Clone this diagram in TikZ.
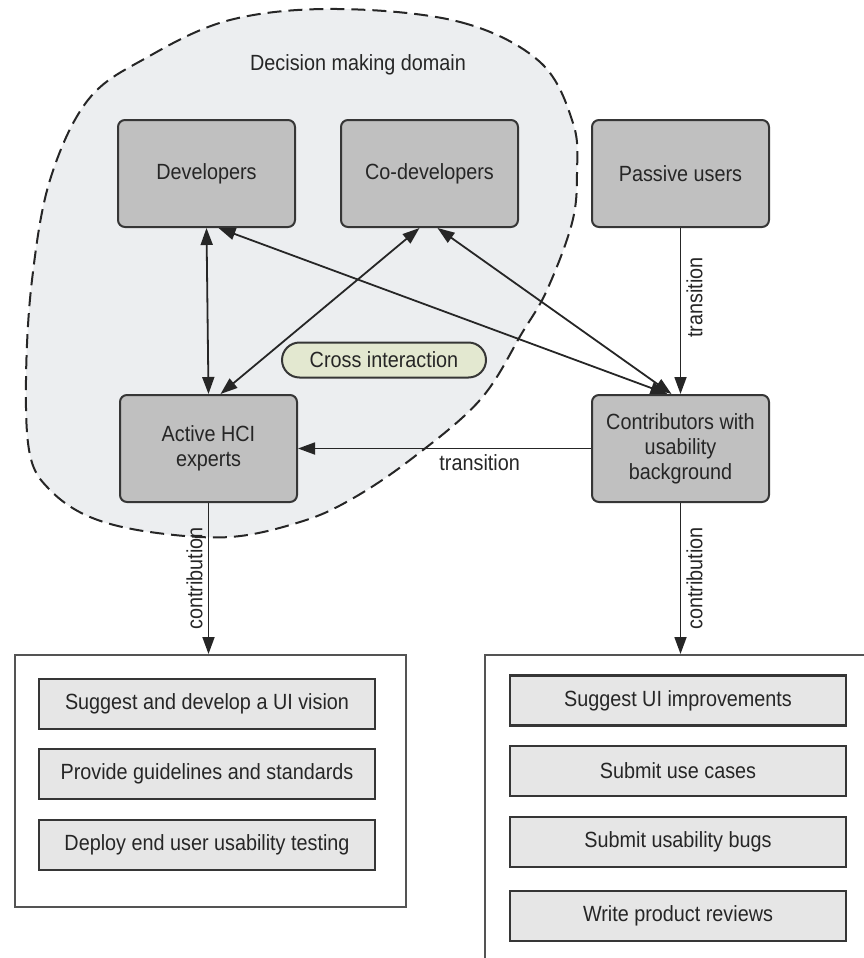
\documentclass[tikz,border=0pt]{standalone}
\usepackage{fontspec}
\setmainfont{Liberation Sans}[FakeStretch=0.9]
\usetikzlibrary{arrows.meta,shapes.misc}

\definecolor{boxgray}{HTML}{C0C0C0}
\definecolor{edgegray}{HTML}{363636}
\definecolor{domainfill}{HTML}{ECEEF0}
\definecolor{itemfill}{HTML}{E6E6E6}
\definecolor{pillfill}{HTML}{E3E8D0}
\definecolor{inkgray}{HTML}{262626}

\begin{document}
\begin{tikzpicture}[x=1pt, y=-1pt,
  font=\fontsize{22}{25}\selectfont, text=inkgray,
  >={Triangle[length=17pt,width=12pt]},
  rolebox/.style={draw=edgegray, line width=2pt, fill=boxgray, rounded corners=7pt,
    minimum width=177pt, minimum height=107pt, inner sep=0pt, align=center},
  taskbox/.style={draw=edgegray, line width=2.2pt, fill=itemfill,
    minimum width=336pt, minimum height=50pt, inner sep=0pt},
  panelbox/.style={draw=edgegray!85, line width=1.6pt, fill=white, inner sep=0pt, anchor=north west},
  pillbox/.style={rounded rectangle, draw=edgegray, line width=2pt, fill=pillfill,
    minimum width=204pt, minimum height=35pt, inner sep=0pt},
  linkline/.style={draw=black!85, line width=1.8pt},
  domainblob/.style={fill=domainfill, draw=black!85, line width=2pt, dash pattern=on 14pt off 7pt},
  edgetag/.style={inner sep=5pt}
]
\useasboundingbox (0,0) rectangle (864,958);
\clip (0,0) rectangle (864,958);

% decision making domain
\draw[domainblob] plot[smooth cycle, tension=0.6] coordinates {
  (337,9) (460,22) (540,62) (573,123) (577,173) (572,223) (547,290) (522,333)
  (480,400) (410,460) (350,500) (300,522) (230,537) (150,532) (90,517) (50,490)
  (30,455) (26,380) (32,280) (50,180) (88,100) (146,58) (230,20)};
\node (domlabel) at (358,65) {Decision making domain};

% roles
\node[rolebox] (dev)     at (206.5,173.5) {Developers};
\node[rolebox] (codev)   at (429.5,173.5) {Co-developers};
\node[rolebox] (passive) at (680.5,173.5) {Passive users};
\node[rolebox] (act)     at (208.5,448.5) {Active HCI\\experts};
\node[rolebox] (contrib) at (680.5,448.5) {Contributors with\\usability\\background};
\node[pillbox] (cross)   at (384,360) {Cross interaction};

% contribution panels
\node[panelbox, minimum width=391pt, minimum height=252pt] (lpanel) at (14,654) {};
\node[panelbox, minimum width=420pt, minimum height=340pt] (rpanel) at (484,654) {};

\node[taskbox] (l1) at (207,704) {Suggest and develop a UI vision};
\node[taskbox] (l2) at (207,774) {Provide guidelines and standards};
\node[taskbox] (l3) at (207,845) {Deploy end user usability testing};

\node[taskbox] (r1) at (678,700.5) {Suggest UI improvements};
\node[taskbox] (r2) at (678,771)   {Submit use cases};
\node[taskbox] (r3) at (678,842)   {Submit usability bugs};
\node[taskbox] (r4) at (678,916)   {Write product reviews};

% interactions
\draw[linkline,<->] (dev.south) -- (act.north);
\draw[linkline,<->] ([xshift=-10pt]codev.south) -- ([xshift=12pt]act.north);
\draw[linkline,<->] ([xshift=12pt]dev.south) -- ([xshift=-13pt]contrib.north);
\draw[linkline,<->] ([xshift=8pt]codev.south) -- ([xshift=-9pt]contrib.north);

% transitions
\draw[linkline,->] (passive.south) -- node[edgetag, pos=0.42, rotate=90, anchor=north] {transition} (contrib.north);
\draw[linkline,->] (contrib.west) -- node[edgetag, pos=0.38, anchor=north] {transition} (act.east);

% contributions
\draw[linkline,->] (act.south) -- node[edgetag, midway, rotate=90, anchor=south] {contribution} (act.south |- lpanel.north);
\draw[linkline,->] (contrib.south) -- node[edgetag, midway, rotate=90, anchor=north] {contribution} (contrib.south |- rpanel.north);
\end{tikzpicture}
\end{document}
